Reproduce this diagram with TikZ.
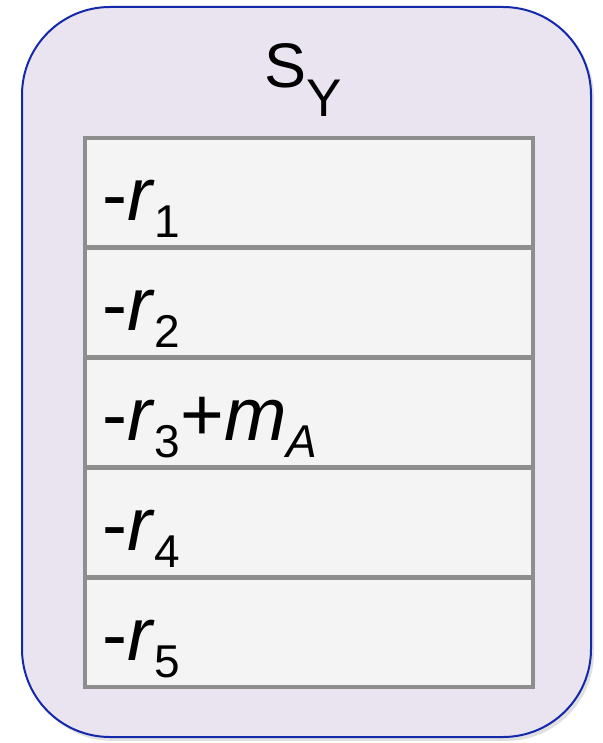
\documentclass[tikz,border=0pt]{standalone}
\usepackage{fontspec}
\setmainfont{Liberation Sans}
\definecolor{outerfill}{RGB}{234,228,241}
\definecolor{outerline}{RGB}{20,40,170}
\definecolor{cellfill}{RGB}{244,244,244}
\definecolor{cellline}{RGB}{142,142,142}
\newcommand{\rowsub}[1]{\raisebox{-17pt}{\fontsize{46}{46}\selectfont #1}}
\begin{document}
\begin{tikzpicture}[x=1pt,y=-1pt,
  cellbox/.style={draw=cellline,fill=cellfill,line width=4.8pt},
  rowtext/.style={anchor=base west,inner sep=0pt,font=\fontsize{75}{80}\selectfont},
]
\useasboundingbox (0,0) rectangle (602,743);
% shadow
\fill[black!12,rounded corners=88pt] (25,10) rectangle (594,741);
\draw[fill=outerfill,draw=outerline,line width=2pt,rounded corners=88pt] (22,7) rectangle (591,737);
\node[anchor=base west,inner sep=0pt,font=\fontsize{63}{66}\selectfont] (title) at (264,88) {S\raisebox{-29pt}{\fontsize{53}{53}\selectfont Y}};
\foreach \i in {0,...,4}{
  \draw[cellbox] (85,{138+\i*109.8}) rectangle (533,{138+(\i+1)*109.8});
}
\node[rowtext] (r1) at (102,221) {-\textit{r}\rowsub{1}};
\node[rowtext] (r2) at (102,{221+109.8}) {-\textit{r}\rowsub{2}};
\node[rowtext] (r3) at (102,{221+2*109.8}) {-\textit{r}\rowsub{3}+\textit{m}\rowsub{\textit{A}}};
\node[rowtext] (r4) at (102,{221+3*109.8}) {-\textit{r}\rowsub{4}};
\node[rowtext] (r5) at (102,{221+4*109.8}) {-\textit{r}\rowsub{5}};
\end{tikzpicture}
\end{document}
